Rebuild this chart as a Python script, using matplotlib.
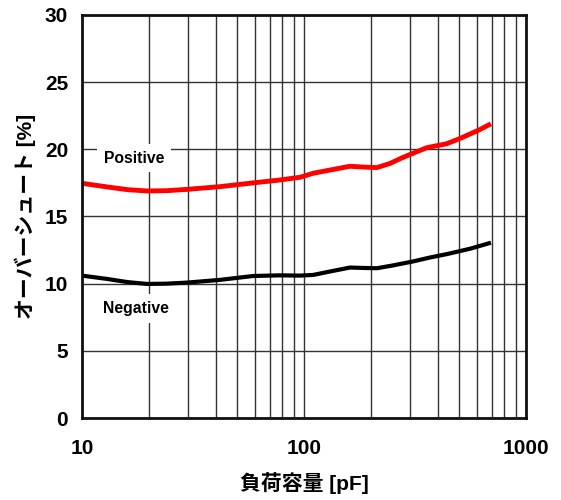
import matplotlib
matplotlib.use("Agg")
import matplotlib.pyplot as plt
from matplotlib.ticker import FixedLocator, NullFormatter

plt.rcParams['font.family'] = ['Liberation Sans', 'Noto Sans CJK JP', 'DejaVu Sans']
plt.rcParams['font.weight'] = 'bold'

# Load capacitance [pF] and overshoot [%]
cap_pos = [10, 13, 16, 19.6, 24, 29.7, 41.7, 58.9, 78, 96, 110, 135, 161, 185, 213, 244, 275, 309, 357, 440, 503, 616, 695]
positive = [17.47, 17.2, 17.0, 16.9, 16.92, 17.02, 17.22, 17.5, 17.72, 17.92, 18.22, 18.5, 18.74, 18.68, 18.64, 18.95, 19.35, 19.7, 20.12, 20.42, 20.8, 21.45, 21.9]

cap_neg = [10, 13, 16, 19.6, 24, 29.7, 41.7, 58.9, 78, 96, 110, 135, 161, 185, 213, 250, 309, 370, 440, 560, 695]
negative = [10.6, 10.35, 10.12, 9.98, 10.0, 10.08, 10.28, 10.57, 10.62, 10.6, 10.65, 10.95, 11.2, 11.17, 11.15, 11.35, 11.65, 11.95, 12.2, 12.6, 13.05]

fig = plt.figure(figsize=(5.61, 5.0), dpi=100)
ax = fig.add_axes([82/561, 1 - 418/500, (526-82)/561, (418-15)/500])

ax.set_xscale('log')
ax.set_xlim(10, 1000)
ax.set_ylim(0, 30)

minor = [m * d for d in (10, 100) for m in range(2, 10)]
ax.xaxis.set_major_locator(FixedLocator([10, 100, 1000]))
ax.xaxis.set_minor_locator(FixedLocator(minor))
ax.xaxis.set_minor_formatter(NullFormatter())
ax.set_xticklabels(['10', '100', '1000'])
ax.set_yticks([0, 5, 10, 15, 20, 25, 30])

ax.grid(True, which='both', color='#333333', linewidth=1.0)
ax.set_axisbelow(True)
ax.tick_params(which='both', length=0, labelsize=15, pad=10)
for lab in ax.get_xticklabels() + ax.get_yticklabels():
    lab.set_fontweight('bold')
ax.tick_params(axis='x', pad=15)

for s in ax.spines.values():
    s.set_linewidth(2.0)
    s.set_color('#111111')

ax.plot(cap_pos, positive, color='#ff0000', linewidth=3.5, solid_joinstyle='round', solid_capstyle='butt')
ax.plot(cap_neg, negative, color='#000000', linewidth=3.0, solid_joinstyle='round', solid_capstyle='butt')

ax.text(17.2, 19.35, 'Positive', fontsize=11.3, fontweight='bold', ha='center', va='center',
        bbox=dict(facecolor='white', edgecolor='none', pad=5))
ax.text(17.5, 8.15, 'Negative', fontsize=11.3, fontweight='bold', ha='center', va='center',
        bbox=dict(facecolor='white', edgecolor='none', pad=5))

ax.set_xlabel('負荷容量 [pF]', fontsize=15, fontweight='bold',
              family=['Liberation Sans', 'Noto Sans CJK JP'], labelpad=10)
ax.set_ylabel('オーバーシュート [%]', fontsize=15, fontweight='bold',
              family=['Liberation Sans', 'Noto Sans CJK JP'], labelpad=6)

fig.savefig('out.png', dpi=100)
